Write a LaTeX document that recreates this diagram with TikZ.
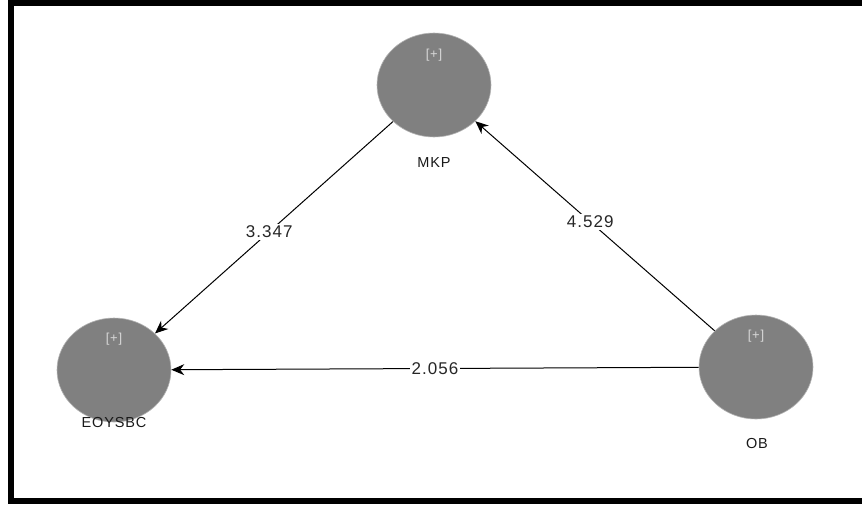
\documentclass[tikz,border=0pt]{standalone}
\usepackage{fontspec}
\setmainfont{Liberation Sans}[LetterSpace=6]
\usetikzlibrary{shapes.geometric,arrows.meta}
\definecolor{lvgray}{HTML}{808080}
\definecolor{plusgray}{HTML}{D8D8D8}
\begin{document}
\begin{tikzpicture}[x=1pt,y=-1pt,
  latent/.style={ellipse,fill=lvgray,draw=lvgray!60,line width=0.6pt,minimum width=114pt,minimum height=104pt,inner sep=0pt},
  plus/.style={text=plusgray,font=\fontsize{13}{15}\selectfont},
  lvname/.style={font=\fontsize{14.5}{16}\selectfont,text=black!90},
  path/.style={line width=1pt,-{Stealth[length=13pt,width=11pt]}},
  coef/.style={fill=white,inner sep=2pt,font=\fontsize{17}{19}\selectfont,text=black!85}]
\useasboundingbox (0,0) rectangle (862,504);
\fill[black] (8,0) rectangle (862,6);
\fill[black] (8,0) rectangle (14,504);
\fill[black] (8,498) rectangle (862,504);
\node[latent] (mkp) at (434,85) {};
\node[latent] (eoy) at (114,370) {};
\node[latent] (ob) at (756,367) {};
\node[plus] (pmkp) at (434,55) {[+]};
\node[plus] (peoy) at (114,339) {[+]};
\node[plus] (pob) at (756,336) {[+]};
\node[lvname] (lmkp) at (434,163) {MKP};
\node[lvname] (leoy) at (114,423) {EOYSBC};
\node[lvname] (lob) at (757,443) {OB};
\draw[path] (mkp) -- node[coef,pos=0.52] {3.347} (eoy);
\draw[path] (ob) -- node[coef,pos=0.52] {4.529} (mkp);
\draw[path] (ob) -- node[coef,pos=0.5] {2.056} (eoy);
\end{tikzpicture}
\end{document}
